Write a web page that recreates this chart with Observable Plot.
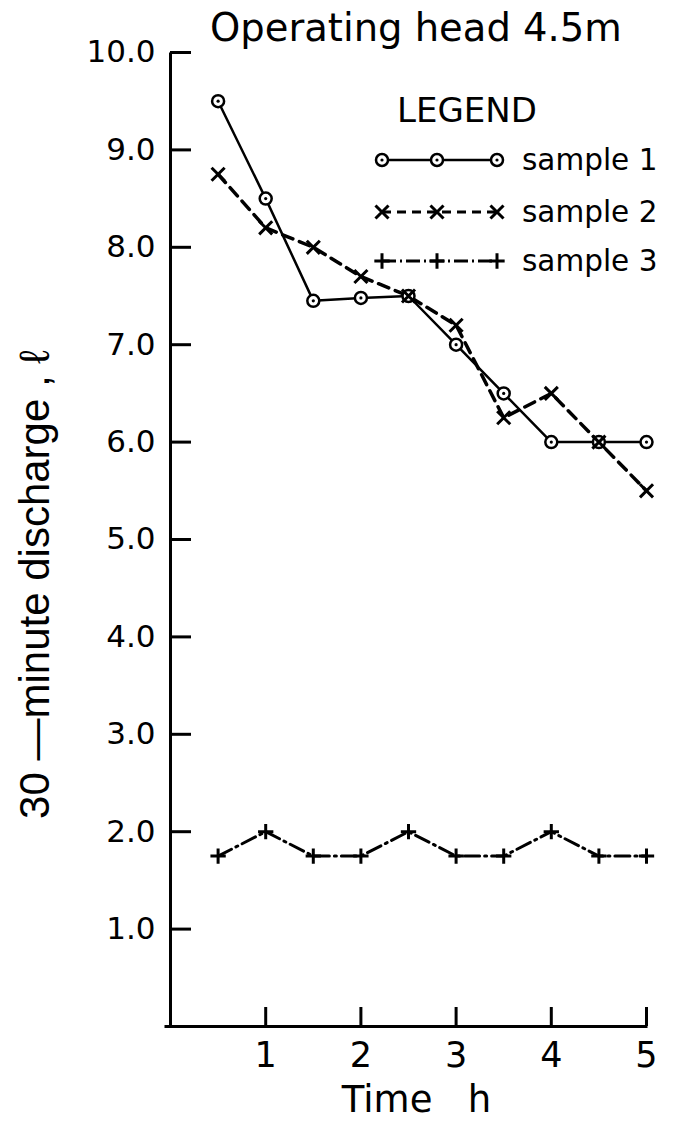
<!DOCTYPE html>
<html>
<head>
<meta charset="utf-8">
<script src="https://cdn.jsdelivr.net/npm/d3@7"></script>
<script src="https://cdn.jsdelivr.net/npm/@observablehq/plot@0.6"></script>
<style>
  html, body { margin: 0; padding: 0; background: #fff; }
  #wrap { position: relative; width: 680px; height: 1142px; overflow: hidden; }
  #title {
    position: absolute; left: 210px; top: 9px; z-index: 2;
    font-family: "DejaVu Sans", sans-serif; font-size: 38.5px; line-height: 1;
    color: #000; white-space: nowrap;
  }
  #wrap svg { position: absolute; left: 0; top: 0; z-index: 1; }
</style>
</head>
<body>
<div id="wrap"><div id="title">Operating head 4.5m</div></div>
<script>
// ---- data ----
const times   = [0.5, 1, 1.5, 2, 2.5, 3, 3.5, 4, 4.5, 5];
const sample1 = [9.5, 8.5, 7.45, 7.48, 7.5, 7.0, 6.5, 6.0, 6.0, 6.0];
const sample2 = [8.75, 8.2, 8.0, 7.7, 7.5, 7.2, 6.25, 6.5, 6.0, 5.5];
const sample3 = [1.75, 2.0, 1.75, 1.75, 2.0, 1.75, 1.75, 2.0, 1.75, 1.75];
const seriesNames = ["sample 1", "sample 2", "sample 3"];
const yTicks = [1, 2, 3, 4, 5, 6, 7, 8, 9, 10];
const xTicks = [1, 2, 3, 4, 5];
const xLabel = "Time   h";
const yLabel = "30 \u2014minute discharge , \u2113";
const legendTitle = "LEGEND";

// ---- tables built from the arrays ----
const toRows = vals => times.map((t, i) => ({t, v: vals[i]}));
const d1 = toRows(sample1), d2 = toRows(sample2), d3rows = toRows(sample3);

const W = 680, H = 1142;
const mL = 170, mR = 34, mT = 52, mB = 116;
const frameW = W - mL - mR, frameH = H - mT - mB;

const dash2 = "11,7";
const dash3 = "15,5,2,5";

const chart = Plot.plot({
  width: W, height: H,
  marginLeft: mL, marginRight: mR, marginTop: mT, marginBottom: mB,
  style: {fontFamily: "DejaVu Sans", background: "#fff", color: "#000"},
  x: {domain: [0, 5]},
  y: {domain: [0, 10]},
  marks: [
    // axis lines
    Plot.ruleX([0], {y1: 0, y2: 10, strokeWidth: 3, insetBottom: -2, strokeLinecap: "square"}),
    Plot.ruleY([0], {x1: 0, x2: 5, strokeWidth: 3, insetLeft: -4, strokeLinecap: "square"}),
    // inward ticks
    Plot.tickY(yTicks, {y: d => d, strokeWidth: 3, insetRight: frameW - 21}),
    Plot.tickX(xTicks, {x: d => d, strokeWidth: 3, insetTop: frameH - 19}),
    // tick labels
    Plot.axisY({ticks: yTicks, tickSize: 0, tickPadding: 15, tickFormat: d => d.toFixed(1),
      fontSize: 31, label: null}),
    Plot.axisX({ticks: xTicks, tickSize: 0, tickPadding: 16, tickFormat: d => String(d),
      fontSize: 35, label: null}),
    // axis titles
    Plot.text([yLabel], {text: d => d, frameAnchor: "left", textAnchor: "middle", rotate: -90,
      dx: -135, dy: 45, fontSize: 42, fontFamily: "Liberation Sans"}),
    Plot.text([xLabel], {text: d => d, frameAnchor: "bottom", dx: 8, dy: 85, fontSize: 37}),
    // series lines
    Plot.line(d1, {x: "t", y: "v", stroke: "#000", strokeWidth: 2.5}),
    Plot.line(d2, {x: "t", y: "v", stroke: "#000", strokeWidth: 3.5, strokeDasharray: dash2}),
    Plot.line(d3rows, {x: "t", y: "v", stroke: "#000", strokeWidth: 3, strokeDasharray: dash3}),
    // markers
    Plot.dot(d1, {x: "t", y: "v", r: 6, stroke: "#000", strokeWidth: 2.5, fill: "#fff"}),
    Plot.dot(d1, {x: "t", y: "v", r: 1.6, fill: "#000"}),
    Plot.dot(d2, {x: "t", y: "v", symbol: "times", r: 6, stroke: "#000", strokeWidth: 3}),
    Plot.dot(d3rows, {x: "t", y: "v", symbol: "plus", r: 5, stroke: "#000", strokeWidth: 3})
  ]
});
document.getElementById("wrap").appendChild(chart);

// ---- legend (layout drawn into the plot's svg) ----
const svg = d3.select(chart);
const lg = svg.append("g").attr("font-family", "DejaVu Sans").attr("fill", "#000")
  .attr("text-anchor", "start");
lg.append("text").attr("x", 397).attr("y", 122).attr("font-size", 34).text(legendTitle);

const rowY = [160, 212, 261];
const swX = [382, 437, 497];
const sym = (type, r) => d3.symbol(type, Math.PI * r * r)();

seriesNames.forEach((name, i) => {
  const y = rowY[i];
  const g = lg.append("g");
  const line = g.append("line").attr("x1", swX[0]).attr("x2", swX[2]).attr("y1", y).attr("y2", y)
    .attr("stroke", "#000");
  if (i === 0) line.attr("stroke-width", 2.5);
  if (i === 1) line.attr("stroke-width", 3).attr("stroke-dasharray", "9,6");
  if (i === 2) line.attr("stroke-width", 3).attr("stroke-dasharray", "14,4,2,4");
  swX.forEach(x => {
    if (i === 0) {
      g.append("circle").attr("cx", x).attr("cy", y).attr("r", 6)
        .attr("fill", "#fff").attr("stroke", "#000").attr("stroke-width", 2.5);
      g.append("circle").attr("cx", x).attr("cy", y).attr("r", 1.6).attr("fill", "#000");
    } else {
      g.append("path").attr("transform", `translate(${x},${y})`)
        .attr("d", i === 1 ? sym(d3.symbolTimes, 6) : sym(d3.symbolPlus, 5))
        .attr("fill", "none").attr("stroke", "#000").attr("stroke-width", 3);
    }
  });
  g.append("text").attr("x", 522).attr("y", y).attr("dy", "0.35em")
    .attr("font-size", 29.5).text(name);
});
</script>
</body>
</html>
